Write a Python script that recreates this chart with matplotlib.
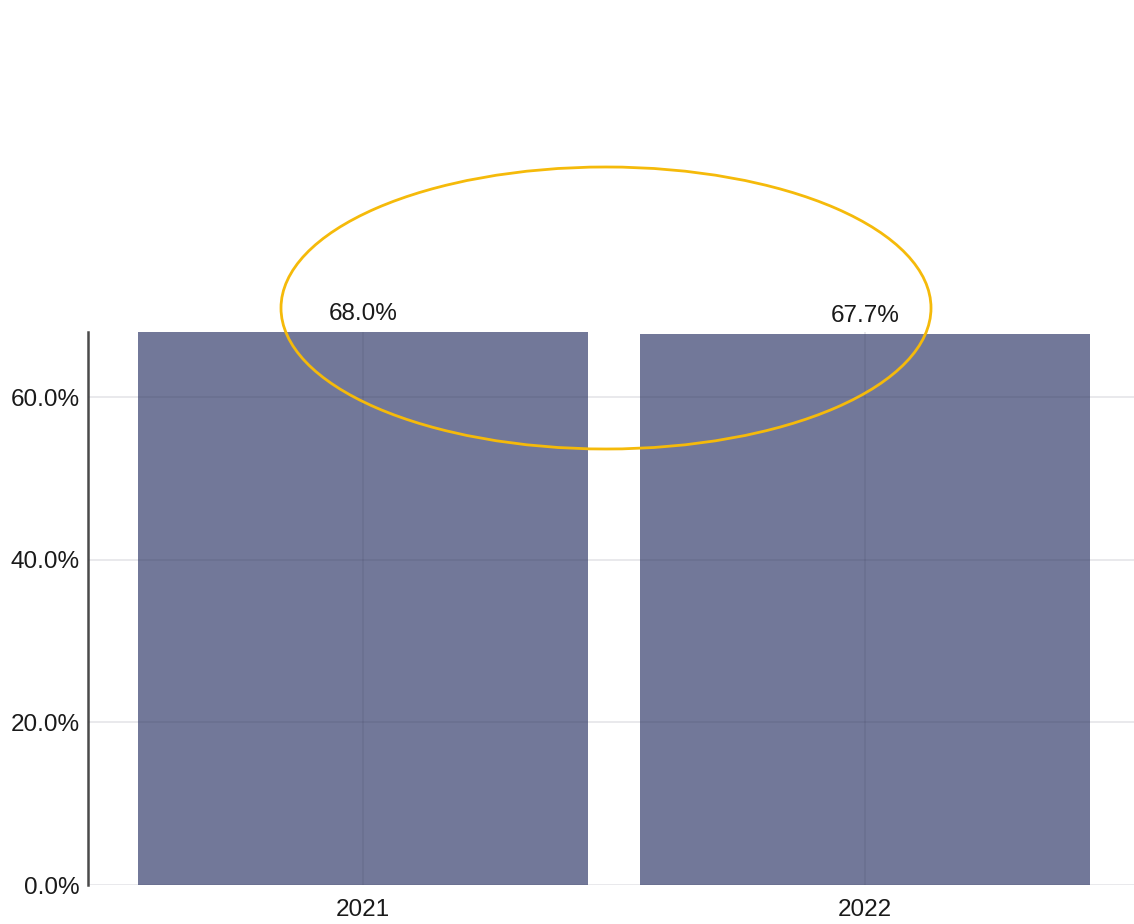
"""Share by year, bar chart with highlight ellipse."""

import matplotlib.pyplot as plt
from matplotlib.patches import Ellipse
from matplotlib.ticker import PercentFormatter

plt.rcParams["font.family"] = ["Liberation Sans", "DejaVu Sans"]

# ---- data ----
years = ["2021", "2022"]
shares = [68.0, 67.7]
y_ticks = [0, 20, 40, 60]

bar_color = "#727899"

fig = plt.figure(figsize=(11.34, 9.24), dpi=100)
ax = fig.add_axes([88 / 1134, 39 / 924, 1 - 88 / 1134, (885 - 332) / 924])

x = list(range(len(years)))
ax.bar(x, shares, width=0.897, color=bar_color, zorder=1)

for xi, v in zip(x, shares):
    ax.annotate(f"{v:.1f}%", xy=(xi, v), xytext=(0, 5), textcoords="offset points",
                ha="center", va="bottom", fontsize=17.5, color="#1a1a1a")

ax.set_xlim(-0.548, 1.536)
ax.set_ylim(0, 68)
ax.set_xticks(x)
ax.set_xticklabels(years)
ax.set_yticks(y_ticks)
ax.yaxis.set_major_formatter(PercentFormatter(decimals=1))
ax.tick_params(axis="both", length=0, labelsize=17.5, colors="#1a1a1a")
ax.tick_params(axis="y", pad=6)
ax.tick_params(axis="x", pad=10)

ax.grid(True, color="#3a3a55", alpha=0.13, lw=1.2)
ax.set_axisbelow(False)

for s in ["top", "right", "bottom"]:
    ax.spines[s].set_visible(False)
ax.spines["left"].set_color("#4a4a4a")
ax.spines["left"].set_linewidth(1.8)

# highlight ellipse in figure coordinates
ell = Ellipse((606 / 1134, 1 - 308 / 924), 650 / 1134, 282 / 924,
              transform=fig.transFigure, fill=False, edgecolor="#F5BA0A", lw=2)
fig.add_artist(ell)

plt.savefig("out.png", dpi=100)
plt.close()
